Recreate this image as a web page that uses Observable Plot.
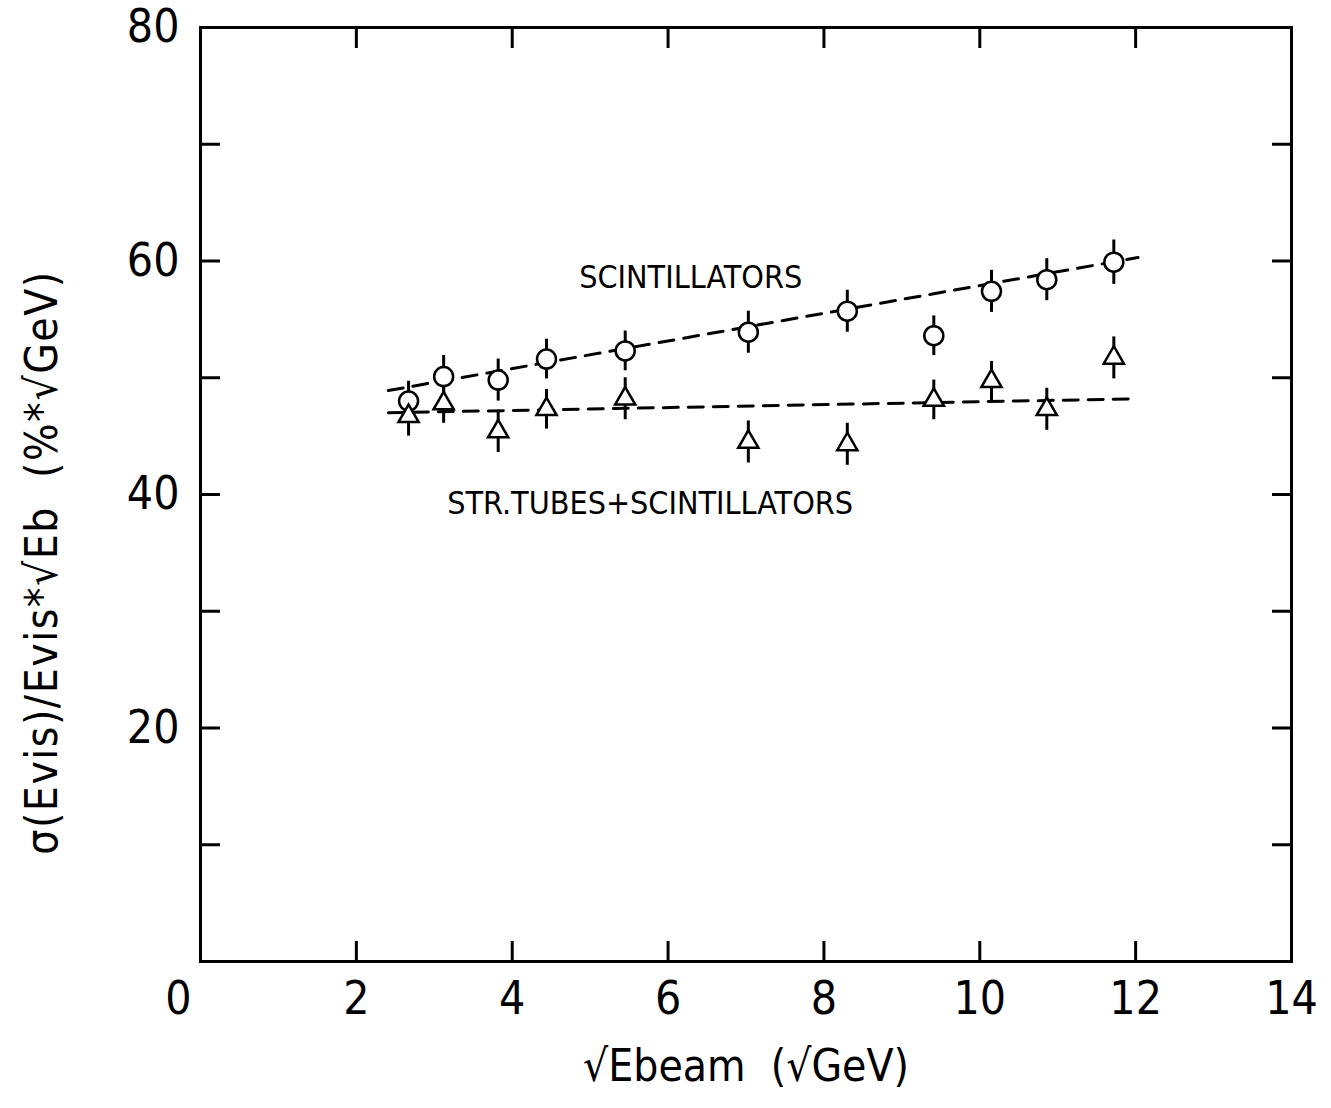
<!DOCTYPE html>
<html>
<head>
<meta charset="utf-8">
<script src="https://cdn.jsdelivr.net/npm/d3@7"></script>
<script src="https://cdn.jsdelivr.net/npm/@observablehq/plot@0.6"></script>
<style>
  html, body { margin: 0; padding: 0; background: #fff; }
  svg text { font-family: "Liberation Sans Narrow", "DejaVu Sans Condensed", "DejaVu Sans", sans-serif; }
</style>
</head>
<body>
<div id="chart"></div>
<script>
// ---- data ----
const sqrtE = [2.67, 3.12, 3.82, 4.44, 5.45, 7.03, 8.30, 9.41, 10.15, 10.86, 11.72];
const scintRes = [48.0, 50.1, 49.8, 51.6, 52.3, 53.9, 55.7, 53.6, 57.4, 58.4, 59.9];
const scintErr = [1.7, 1.8, 1.8, 1.7, 1.7, 1.8, 1.8, 1.7, 1.8, 1.8, 1.9];
const tubesRes = [46.7, 47.8, 45.4, 47.3, 48.2, 44.5, 44.3, 48.1, 49.7, 47.3, 51.7];
const tubesErr = [1.7, 1.7, 1.8, 1.7, 1.8, 1.8, 1.8, 1.7, 1.7, 1.8, 1.8];
const fitX = [2.41, 12.03];
const scintFit = [48.9, 60.3];
const tubesFit = [47.0, 48.2];
const xTickLabels = [0, 2, 4, 6, 8, 10, 12, 14];
const xTickMarks = [2, 4, 6, 8, 10, 12];
const yTickLabels = [20, 40, 60, 80];
const yTickMarks = [10, 20, 30, 40, 50, 60, 70];
const seriesLabels = [
  {x: 6.29, y: 58.6, text: "SCINTILLATORS"},
  {x: 5.77, y: 39.2, text: "STR.TUBES+SCINTILLATORS"}
];
const xLabel = "√Ebeam  (√GeV)";
const yLabel = "σ(Evis)/Evis*√Eb  (%*√GeV)";

const scint = sqrtE.map((x, i) => ({x, y: scintRes[i], e: scintErr[i]}));
const tubes = sqrtE.map((x, i) => ({x, y: tubesRes[i], e: tubesErr[i]}));
const scintLine = fitX.map((x, i) => ({x, y: scintFit[i]}));
const tubesLine = fitX.map((x, i) => ({x, y: tubesFit[i]}));

const W = 1331, H = 1108;
const tickLen = 20;
const sw = 3;

const chart = Plot.plot({
  width: W,
  height: H,
  marginLeft: 200,
  marginRight: 40,
  marginTop: 27,
  marginBottom: 147,
  x: {domain: [0, 14], label: null},
  y: {domain: [0, 80], label: null},
  style: {background: "white", color: "black", fontSize: "46px", overflow: "visible"},
  marks: [
    Plot.frame({stroke: "black", strokeWidth: sw}),
    // inward ticks on four sides
    Plot.axisX(xTickMarks, {anchor: "bottom", tickSize: -tickLen, text: null, label: null, strokeWidth: sw}),
    Plot.axisX(xTickMarks, {anchor: "top", tickSize: -tickLen, text: null, label: null, strokeWidth: sw}),
    Plot.axisY(yTickMarks, {anchor: "left", tickSize: -tickLen, text: null, label: null, strokeWidth: sw}),
    Plot.axisY(yTickMarks, {anchor: "right", tickSize: -tickLen, text: null, label: null, strokeWidth: sw}),
    // tick labels
    Plot.axisX(xTickLabels.filter(d => d !== 0), {anchor: "bottom", tickSize: 0, tickPadding: 20, label: null, fontSize: 46}),
    Plot.axisX(xTickLabels.filter(d => d === 0), {anchor: "bottom", tickSize: 0, tickPadding: 20, dx: -22, label: null, fontSize: 46}),
    Plot.axisY(yTickLabels, {anchor: "left", tickSize: 0, tickPadding: 21, label: null, fontSize: 46}),
    // axis titles
    Plot.text([xLabel], {frameAnchor: "bottom", text: d => d, dy: 119, fontSize: 44}),
    Plot.text([yLabel], {frameAnchor: "left", textAnchor: "middle", text: d => d, rotate: -90, dx: -158, dy: 68, fontSize: 44}),
    // fits
    Plot.line(scintLine, {x: "x", y: "y", stroke: "black", strokeWidth: 3, strokeDasharray: "15,10"}),
    Plot.line(tubesLine, {x: "x", y: "y", stroke: "black", strokeWidth: 3, strokeDasharray: "15,10"}),
    // error bars
    Plot.ruleX(scint, {x: "x", y1: d => d.y - d.e, y2: d => d.y + d.e, stroke: "black", strokeWidth: 3}),
    Plot.ruleX(tubes, {x: "x", y1: d => d.y - d.e, y2: d => d.y + d.e, stroke: "black", strokeWidth: 3}),
    // markers
    Plot.dot(scint, {x: "x", y: "y", r: 9.5, symbol: "circle", stroke: "black", fill: "white", strokeWidth: 2.5}),
    Plot.dot(tubes, {x: "x", y: "y", r: 7.5, symbol: "triangle", stroke: "black", fill: "white", strokeWidth: 2.5}),
    // series labels
    Plot.text(seriesLabels, {x: "x", y: "y", text: "text", fontSize: 32})
  ]
});
// spacing of the rotated y title, as in the reference lettering
d3.select(chart).selectAll("text")
  .filter(function() { return this.textContent === yLabel; })
  .attr("letter-spacing", 1.5);
document.getElementById("chart").appendChild(chart);
</script>
</body>
</html>
